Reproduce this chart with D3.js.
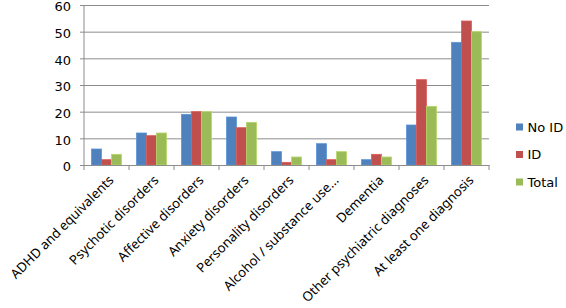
<!DOCTYPE html>
<html>
<head>
<meta charset="utf-8">
<script src="https://cdn.jsdelivr.net/npm/d3@7"></script>
<style>
  body { margin: 0; background: #fff; }
  svg { display: block; }
</style>
</head>
<body>
<svg id="chart"></svg>
<script>
const categories = [
  "ADHD and equivalents", "Psychotic disorders", "Affective disorders",
  "Anxiety disorders", "Personality disorders", "Alcohol / substance use...",
  "Dementia", "Other psychiatric diagnoses", "At least one diagnosis"
];
const seriesNames = ["No ID", "ID", "Total"];
const noId  = [6, 12, 19, 18, 5, 8, 2, 15, 46];
const id    = [2, 11, 20, 14, 1, 2, 4, 32, 54];
const total = [4, 12, 20, 16, 3, 5, 3, 22, 50];
const yTicks = [0, 10, 20, 30, 40, 50, 60];

const width = 566, height = 308;
const margin = { top: 5, right: 77, bottom: 143, left: 84 };

const svg = d3.select("#chart").attr("width", width).attr("height", height);

const data = categories.map((c, i) => ({ cat: c, "No ID": noId[i], "ID": id[i], "Total": total[i] }));

const x = d3.scaleBand()
  .domain(categories)
  .range([margin.left, width - margin.right]);

const x1 = d3.scaleBand()
  .domain(seriesNames)
  .range([0, x.bandwidth()])
  .paddingOuter(0.75);

const y = d3.scaleLinear()
  .domain([0, 60])
  .range([height - margin.bottom, margin.top]);

const color = d3.scaleOrdinal()
  .domain(seriesNames)
  .range(["#4F81BD", "#C0504D", "#9BBB59"]);

// gridlines + y axis
svg.append("g")
  .attr("transform", `translate(${margin.left},0)`)
  .call(d3.axisLeft(y).tickValues(yTicks).tickSize(-(width - margin.left - margin.right)).tickPadding(13))
  .call(g => g.select(".domain").remove())
  .call(g => g.selectAll(".tick line").attr("stroke", "#8c8c8c").attr("x1", -4))
  .call(g => g.selectAll("text")
    .attr("fill", "#000")
    .attr("dy", "0.46em")
    .style("font-family", "DejaVu Sans, Verdana, sans-serif")
    .style("font-size", "13px"));

// bars
svg.append("g")
  .selectAll("g")
  .data(data)
  .join("g")
  .attr("transform", d => `translate(${x(d.cat)},0)`)
  .selectAll("rect")
  .data(d => seriesNames.map(k => ({ key: k, value: d[k] })))
  .join("rect")
  .attr("x", d => x1(d.key))
  .attr("y", d => y(d.value))
  .attr("width", x1.bandwidth())
  .attr("height", d => y(0) - y(d.value))
  .attr("fill", d => color(d.key))
  .attr("stroke", d => d3.color(color(d.key)).brighter(0.4))
  .attr("stroke-width", 0.8);

// x axis
svg.append("g")
  .attr("transform", `translate(0,${y(0)})`)
  .call(d3.axisBottom(x).tickSize(0).tickFormat(""))
  .call(g => g.select(".domain").attr("stroke", "#8c8c8c"));

// left axis line
svg.append("line")
  .attr("x1", margin.left).attr("x2", margin.left)
  .attr("y1", y(60)).attr("y2", y(0))
  .attr("stroke", "#8c8c8c");

// x ticks at band boundaries
svg.append("g")
  .selectAll("line")
  .data(categories.concat(["end"]))
  .join("line")
  .attr("x1", (d, i) => margin.left + i * x.bandwidth())
  .attr("x2", (d, i) => margin.left + i * x.bandwidth())
  .attr("y1", y(0)).attr("y2", y(0) + 5)
  .attr("stroke", "#8c8c8c");

// x labels rotated
svg.append("g")
  .selectAll("text")
  .data(categories)
  .join("text")
  .attr("transform", d => `translate(${x(d) + x.bandwidth() / 2 + 8},${y(0) + 16}) rotate(-45)`)
  .attr("text-anchor", "end")
  .style("font-family", "Noto Sans, Open Sans, sans-serif")
  .style("font-size", "13.2px")
  .attr("fill", "#000")
  .text(d => d);

// legend
const legend = svg.append("g")
  .attr("transform", "translate(516,127)");

legend.selectAll("g")
  .data(seriesNames)
  .join("g")
  .attr("transform", (d, i) => `translate(0,${i * 27.5})`)
  .call(g => g.append("rect")
    .attr("x", 0).attr("y", -3.5)
    .attr("width", 7).attr("height", 7)
    .attr("fill", d => color(d)))
  .call(g => g.append("text")
    .attr("x", 11.5).attr("y", 0)
    .attr("dy", "0.37em")
    .style("font-family", "DejaVu Sans, Verdana, sans-serif")
    .style("font-size", "13px")
    .attr("fill", "#000")
    .text(d => d));
</script>
</body>
</html>
